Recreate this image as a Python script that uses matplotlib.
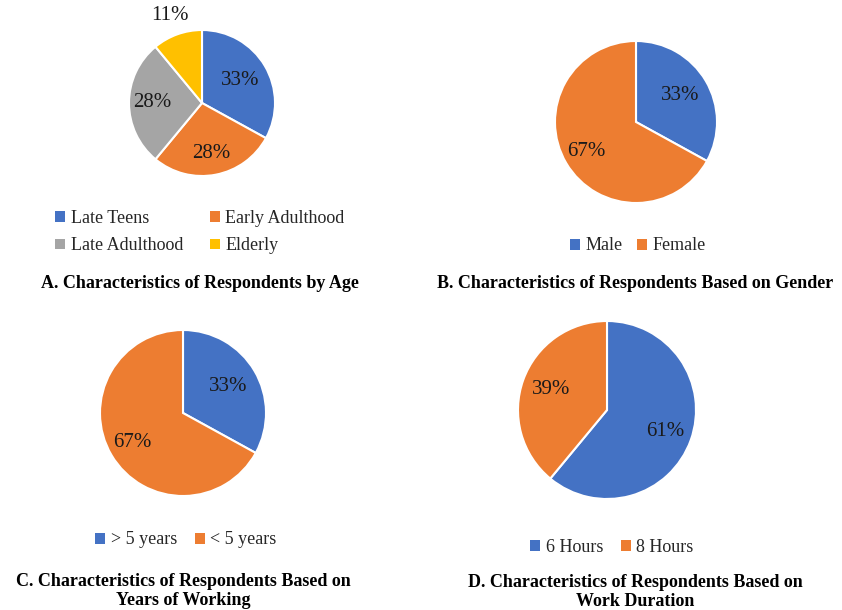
import numpy as np
import matplotlib.pyplot as plt
from matplotlib.patches import Patch

W, H = 842, 610

# data
age_labels = ["Late Teens", "Early Adulthood", "Late Adulthood", "Elderly"]
age_values = [33, 28, 28, 11]
gender_labels = ["Male", "Female"]
gender_values = [33, 67]
years_labels = ["> 5 years", "< 5 years"]
years_values = [33, 67]
duration_labels = ["6 Hours", "8 Hours"]
duration_values = [61, 39]

BLUE, ORANGE, GRAY, YELLOW = "#4472C4", "#ED7D31", "#A5A5A5", "#FFC000"
TXT = "#1a1a1a"

plt.rcParams["font.family"] = ["Liberation Serif", "DejaVu Serif"]


def fx(px):
    return px / W


def fy(py):
    return 1 - py / H


def draw_pie(fig, cx, cy, r, values, colors, dists):
    ax = fig.add_axes([fx(cx - r), fy(cy + r), 2 * r / W, 2 * r / H])
    wedges, _ = ax.pie(values, colors=colors, startangle=90, counterclock=False,
                       wedgeprops=dict(edgecolor="white", linewidth=1.5))
    ax.set_xlim(-1, 1)
    ax.set_ylim(-1, 1)
    ax.axis("off")
    for w, v, d in zip(wedges, values, dists):
        ang = np.deg2rad((w.theta1 + w.theta2) / 2)
        ax.text(d * np.cos(ang), d * np.sin(ang), f"{v}%", ha="center", va="center",
                fontsize=15, color=TXT, clip_on=False)
    return ax


def draw_legend(fig, labels, colors, x, y, ncol, colspacing=1.0, row_major=True):
    handles = [Patch(facecolor=c, edgecolor="none") for c in colors]
    labels = list(labels)
    if row_major and len(labels) > ncol:
        # matplotlib fills columns first; reorder so rows read left to right
        order = [i for c in range(ncol) for i in range(c, len(labels), ncol)]
        handles = [handles[i] for i in order]
        labels = [labels[i] for i in order]
    fig.legend(handles, labels, loc="center", bbox_to_anchor=(fx(x), fy(y)), ncol=ncol,
               frameon=False, fontsize=13, handlelength=0.55, handleheight=0.55,
               handletextpad=0.3, columnspacing=colspacing, labelspacing=0.6,
               labelcolor="#262626")


fig = plt.figure(figsize=(W / 100, H / 100), dpi=100)
fig.patch.set_facecolor("white")

# A
draw_pie(fig, 202, 103, 73, age_values, [BLUE, ORANGE, GRAY, YELLOW], [0.6, 0.7, 0.68, 1.28])
draw_legend(fig, age_labels, [BLUE, ORANGE, GRAY, YELLOW], 200, 232, 2, colspacing=1.5)
fig.text(fx(200), fy(283), "A. Characteristics of Respondents by Age", ha="center", va="center",
         fontsize=13, fontweight="bold")

# B
draw_pie(fig, 636, 122, 81, gender_values, [BLUE, ORANGE], [0.64, 0.71])
draw_legend(fig, gender_labels, [BLUE, ORANGE], 638, 246, 2, colspacing=0.8)
fig.text(fx(635), fy(283), "B. Characteristics of Respondents Based on Gender", ha="center",
         va="center", fontsize=13, fontweight="bold")

# C
draw_pie(fig, 183, 413, 83, years_values, [BLUE, ORANGE], [0.63, 0.71])
draw_legend(fig, years_labels, [BLUE, ORANGE], 186, 540, 2, colspacing=1.0)
fig.text(fx(183), fy(591), "C. Characteristics of Respondents Based on\nYears of Working",
         ha="center", va="center", fontsize=13, fontweight="bold", linespacing=1.2)

# D
draw_pie(fig, 607, 410, 89, duration_values, [BLUE, ORANGE], [0.7, 0.67])
draw_legend(fig, duration_labels, [BLUE, ORANGE], 612, 547, 2, colspacing=1.0)
fig.text(fx(635), fy(592), "D. Characteristics of Respondents Based on\nWork Duration",
         ha="center", va="center", fontsize=13, fontweight="bold", linespacing=1.2)

fig.savefig("out.png", dpi=100, facecolor="white")
